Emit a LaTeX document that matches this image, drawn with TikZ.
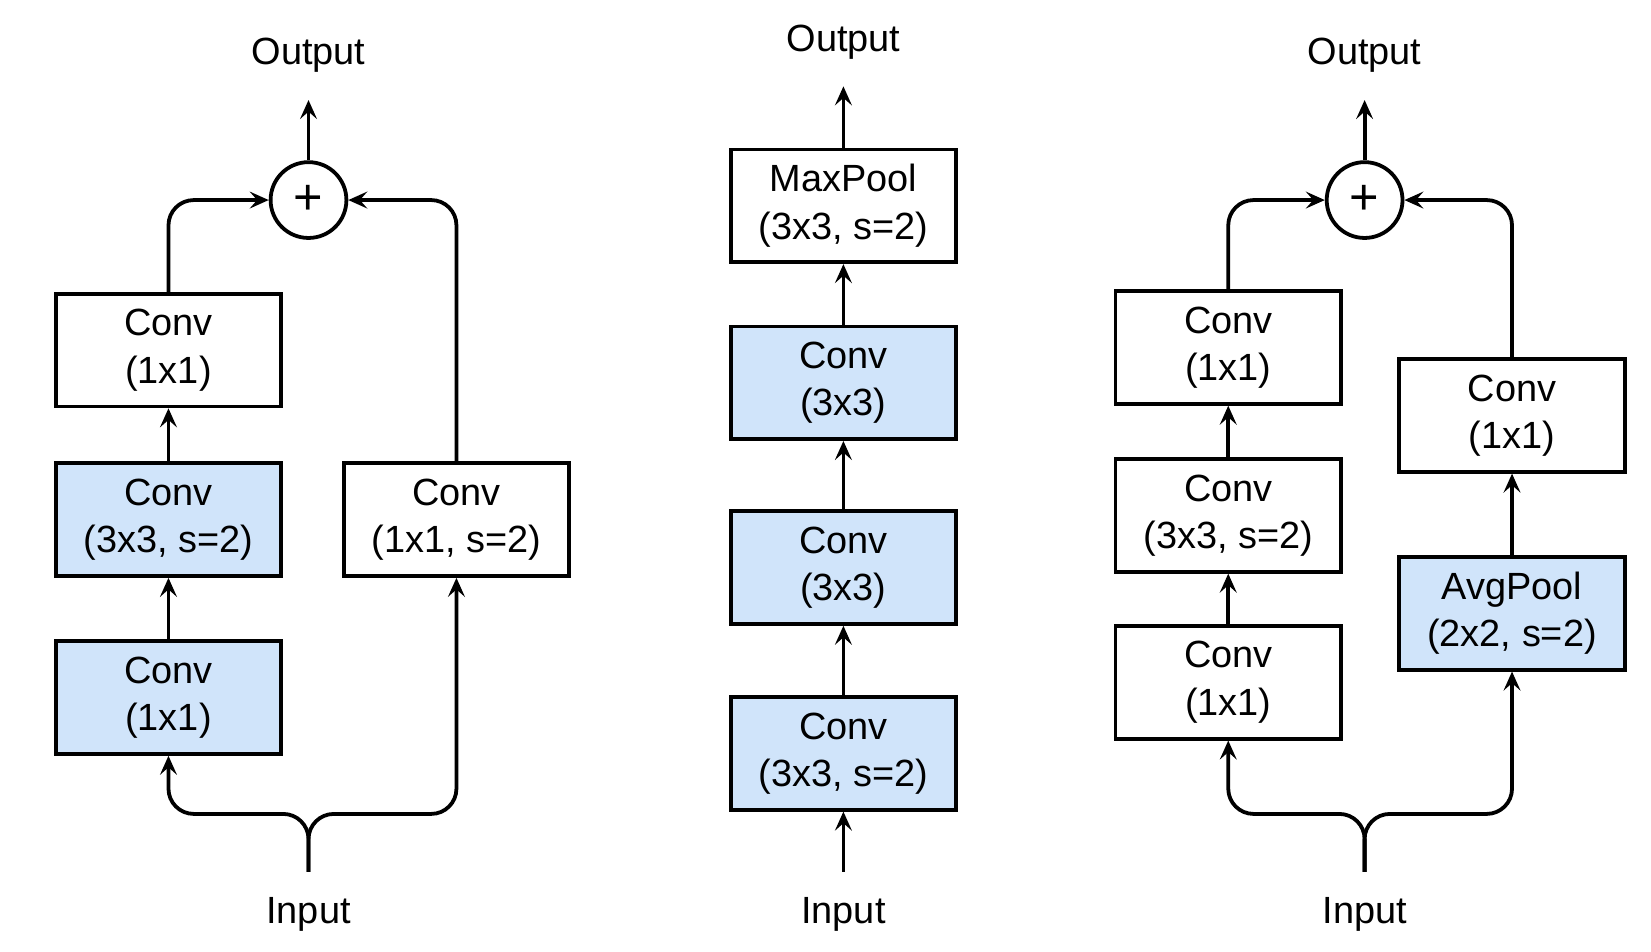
\documentclass[tikz,border=0pt]{standalone}
\usepackage{fontspec}
\setmainfont{Liberation Sans}
\usetikzlibrary{arrows.meta}
\definecolor{boxblue}{RGB}{208,228,250}
\begin{document}
\begin{tikzpicture}[x=0.5pt,y=-0.5pt,
  every node/.style={font=\fontsize{18}{22.5}\selectfont},
  blk/.style={draw=black,line width=1.8pt,fill=white,minimum width=107pt,minimum height=53.5pt,inner sep=0pt,align=center},
  bblk/.style={blk,fill=boxblue},
  sumnode/.style={draw=black,line width=1.8pt,circle,minimum size=36pt,inner sep=0pt,font=\fontsize{24}{24}\selectfont},
  lbl/.style={inner sep=0pt},
  arr/.style={line width=1.8pt,-{Stealth[length=9pt,width=8pt,inset=3.5pt]}},
  rarr/.style={arr,rounded corners=12pt}]
\useasboundingbox (0,0) rectangle (1568,904);
% ---------- left panel ----------
\node[sumnode] (plusL) at (293,190) {+};
\node[bblk] (a1) at (160,662.5) {Conv\\(1x1)};
\node[bblk] (a2) at (160,493.5) {Conv\\(3x3, s=2)};
\node[blk] (a3) at (160,332.5) {Conv\\(1x1)};
\node[blk] (a4) at (433.5,493.5) {Conv\\(1x1, s=2)};
\node[lbl] (outL) at (293,52) {Output};
\node[lbl] (inL) at (293,868) {Input};
\coordinate (oL) at (293,95);
\coordinate (sL) at (293,828);
\coordinate (kL) at (293,773);
\draw[arr] (a1) -- (a2);
\draw[arr] (a2) -- (a3);
\draw[rarr] (a3.north) |- (plusL.west);
\draw[rarr] (a4.north) |- (plusL.east);
\draw[arr] (plusL.north) -- (oL);
\draw[rarr] (sL) -- (kL) -| (a1.south);
\draw[rarr] (sL) -- (kL) -| (a4.south);
% ---------- middle panel ----------
\node[bblk] (m1) at (801,715.5) {Conv\\(3x3, s=2)};
\node[bblk] (m2) at (801,539) {Conv\\(3x3)};
\node[bblk] (m3) at (801,363.5) {Conv\\(3x3)};
\node[blk] (m4) at (801,195.5) {MaxPool\\(3x3, s=2)};
\node[lbl] (outM) at (801,40) {Output};
\node[lbl] (inM) at (801,868) {Input};
\coordinate (oM) at (801,82);
\coordinate (sM) at (801,828);
\draw[arr] (sM) -- (m1.south);
\draw[arr] (m1) -- (m2);
\draw[arr] (m2) -- (m3);
\draw[arr] (m3) -- (m4);
\draw[arr] (m4.north) -- (oM);
% ---------- right panel ----------
\node[sumnode] (plusR) at (1296,190) {+};
\node[blk] (r1) at (1166.5,648) {Conv\\(1x1)};
\node[blk] (r2) at (1166.5,489.5) {Conv\\(3x3, s=2)};
\node[blk] (r3) at (1166.5,330) {Conv\\(1x1)};
\node[bblk] (r4) at (1436,582.5) {AvgPool\\(2x2, s=2)};
\node[blk] (r5) at (1436,394.5) {Conv\\(1x1)};
\node[lbl] (outR) at (1296,52) {Output};
\node[lbl] (inR) at (1296,868) {Input};
\coordinate (oR) at (1296,95);
\coordinate (sR) at (1296,828);
\coordinate (kR) at (1296,773);
\draw[arr] (r1) -- (r2);
\draw[arr] (r2) -- (r3);
\draw[arr] (r4) -- (r5);
\draw[rarr] (r3.north) |- (plusR.west);
\draw[rarr] (r5.north) |- (plusR.east);
\draw[arr] (plusR.north) -- (oR);
\draw[rarr] (sR) -- (kR) -| (r1.south);
\draw[rarr] (sR) -- (kR) -| (r4.south);
\end{tikzpicture}
\end{document}
